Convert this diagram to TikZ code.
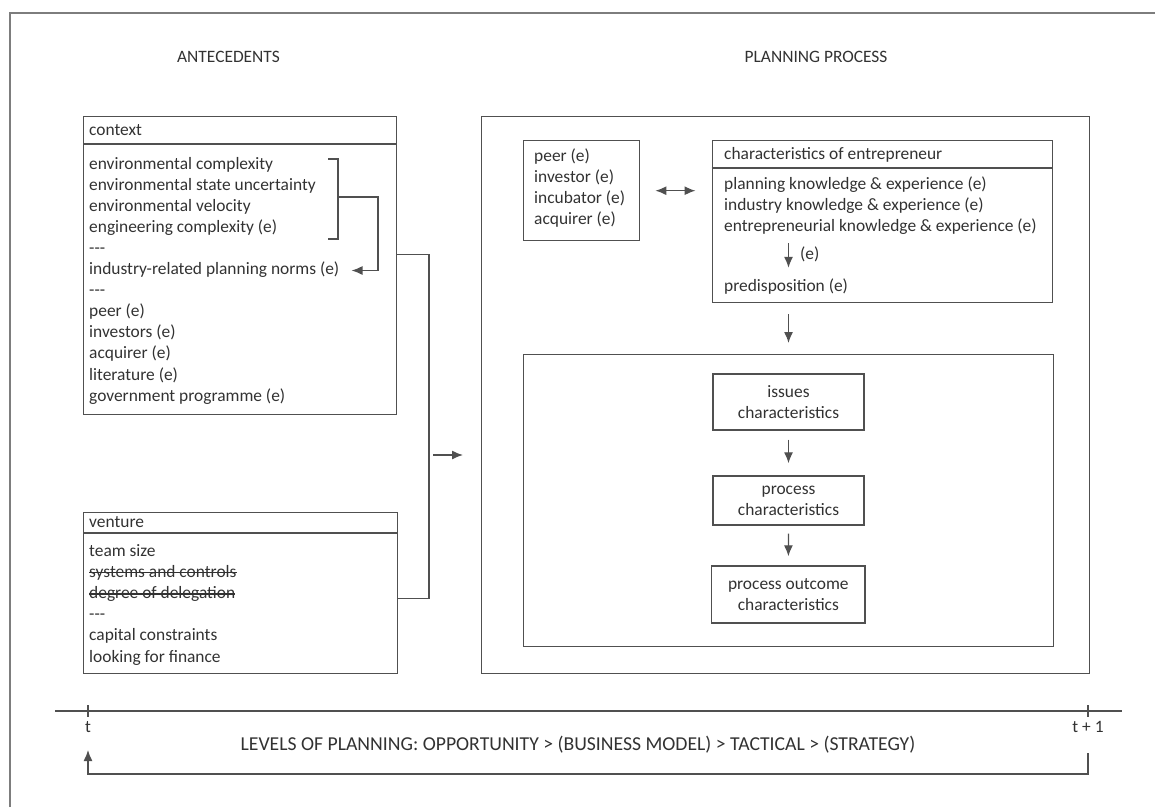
\documentclass[tikz,border=0pt]{standalone}
\usepackage{fontspec}
\setmainfont{Carlito}
\usepackage{xcolor}
\usetikzlibrary{arrows.meta, positioning, calc}

\definecolor{linegray}{RGB}{80,80,80}
\definecolor{textgray}{RGB}{50,50,50}
\definecolor{framegray}{RGB}{125,125,125}
\newcommand{\tripledash}{-\kern0pt-\kern0pt-}

\tikzset{
  box/.style={draw=linegray, line width=1.4pt, anchor=north west, inner sep=0pt},
  item/.style={anchor=west, inner sep=0pt, text height=12pt, text depth=4pt, text=textgray},
  stage/.style={draw=linegray, line width=1.4pt, inner sep=0pt, align=center, text=textgray},
  flow/.style={draw=linegray, line width=1.3pt, -{Latex[length=11pt,width=9pt]}},
  twoway/.style={draw=linegray, line width=1.3pt, {Latex[length=11pt,width=9pt]}-{Latex[length=11pt,width=9pt]}},
  rule/.style={draw=linegray, line width=1.4pt},
}

\begin{document}
\begin{tikzpicture}[x=1pt, y=-1pt, font=\fontsize{17.4}{21.1}\selectfont]

    \useasboundingbox (0,0) rectangle (1155,807);

    % =================================================================
    % 1. FRAME AND COLUMN TITLES
    % =================================================================
    \draw[framegray, line width=2pt] (10,807) -- (10,13) -- (1155,13);

    \node[text=textgray] (antec) at (228.5,57) {ANTECEDENTS};
    \node[text=textgray] (planhead) at (816,57) {PLANNING PROCESS};

    % =================================================================
    % 2. ANTECEDENTS: CONTEXT AND VENTURE
    % =================================================================
    \node[box, minimum width=313pt, minimum height=298pt] (context) at (83,116) {};
    \draw[rule] ([yshift=-28pt]context.north west) -- ([yshift=-28pt]context.north east);
    \node[item] (ctxhead) at (89,131) {context};
    \foreach \txt [count=\i] in {environmental complexity, environmental state uncertainty,
        environmental velocity, engineering complexity (e), \tripledash,
        industry-related planning norms (e), \tripledash, peer (e), investors (e),
        acquirer (e), literature (e), government programme (e)}
      \node[item] (ctx\i) at (89,{165+21.1*(\i-1)}) {\txt};

    % bracket over the first four lines
    \draw[rule] (328,159) -- (338,159) -- (338,239) -- (328,239);
    \coordinate (brmid) at (338,197);
    \draw[flow] (brmid) -- (378,197) |- ([xshift=12pt]ctx6.east);

    \node[box, minimum width=314pt, minimum height=161pt] (venture) at (83,512) {};
    \draw[rule] ([yshift=-21pt]venture.north west) -- ([yshift=-21pt]venture.north east);
    \node[item] (venhead) at (89,523) {venture};
    \foreach \txt [count=\i] in {team size, systems and controls,
        degree of delegation, \tripledash, capital constraints, looking for finance}
      \node[item] (ven\i) at (89,{552+21.2*(\i-1)}) {\txt};

    % struck-out lines
    \foreach \i in {2,3}
      \draw[textgray, line width=1.2pt] ([yshift=0.5pt]ven\i.west) -- ([yshift=0.5pt]ven\i.east);

    % join of both boxes into the planning process
    \coordinate (join) at (429,455);
    \draw[rule] ([yshift=11pt]context.east) -| (join) |- ([yshift=-5.5pt]venture.east);

    % =================================================================
    % 3. PLANNING PROCESS
    % =================================================================
    \node[box, minimum width=608pt, minimum height=557pt] (plan) at (481,116) {};
    \draw[flow, shorten <=4pt, shorten >=18pt] (join) -- (join -| plan.west);

    \node[box, minimum width=116pt, minimum height=100pt] (peer) at (523,140) {};
    \foreach \txt [count=\i] in {peer (e), investor (e), incubator (e), acquirer (e)}
      \node[item] (peer\i) at (534,{157+21.2*(\i-1)}) {\txt};

    \node[box, minimum width=340.5pt, minimum height=162pt] (entre) at (711.5,140) {};
    \draw[rule] ([yshift=-28pt]entre.north west) -- ([yshift=-28pt]entre.north east);
    \node[item] (entrehead) at (724,155) {characteristics of entrepreneur};
    \foreach \txt [count=\i] in {planning knowledge \& experience (e),
        industry knowledge \& experience (e), entrepreneurial knowledge \& experience (e)}
      \node[item] (know\i) at (724,{185+21*(\i-1)}) {\txt};
    \node[item] (predisp) at (724,287) {predisposition (e)};
    \node[item] (elabel) at (800,255) {(e)};

    \draw[twoway, shorten <=15pt, shorten >=16pt] (peer.east) -- (peer.east -| entre.west);

    \node[box, minimum width=530pt, minimum height=292pt] (inner) at (523,354) {};

    \node[stage, minimum width=151pt, minimum height=56pt] (issues) at (788.5,402) {issues\\characteristics};
    \node[stage, minimum width=151pt, minimum height=49pt] (process) at (788.5,500.5) {process\\characteristics};
    \node[stage, minimum width=153.5pt, minimum height=57pt] (outcome) at (788.3,594.5) {process outcome\\characteristics};

    \draw[flow] ([yshift=-8pt]know3.south -| issues.center) -- ([yshift=11pt]predisp.north -| issues.center);
    \draw[flow, shorten <=11pt, shorten >=11pt] (entre.south -| issues.center) -- (inner.north -| issues.center);
    \draw[flow, shorten <=9pt, shorten >=12pt] (issues) -- (process);
    \draw[flow, shorten <=8pt, shorten >=9pt] (process) -- (outcome);

    % =================================================================
    % 4. TIME LINE AND LEVELS OF PLANNING
    % =================================================================
    \coordinate (tzero) at (88,711);
    \coordinate (tone) at (1088,711);
    \draw[rule, line width=1.3pt] (55,711) -- (1122,711);
    \draw[rule, line width=1.3pt] ([yshift=6pt]tzero) -- ([yshift=-6pt]tzero);
    \draw[rule, line width=1.3pt] ([yshift=6pt]tone) -- ([yshift=-6pt]tone);
    \node[text=textgray, anchor=north, inner sep=0pt] (tlabel) at (88,721) {t};
    \node[text=textgray, anchor=north, inner sep=0pt] (tonelabel) at (1088,721) {t + 1};
    \node[text=textgray, font=\fontsize{19.7}{23}\selectfont] (levels) at (578,745)
      {LEVELS OF PLANNING: OPPORTUNITY > (BUSINESS MODEL) > TACTICAL > (STRATEGY)};
    \draw[flow] ([yshift=-42pt]tone) -- ([yshift=-63pt]tone) -| ([yshift=-39pt]tzero);

\end{tikzpicture}
\end{document}
